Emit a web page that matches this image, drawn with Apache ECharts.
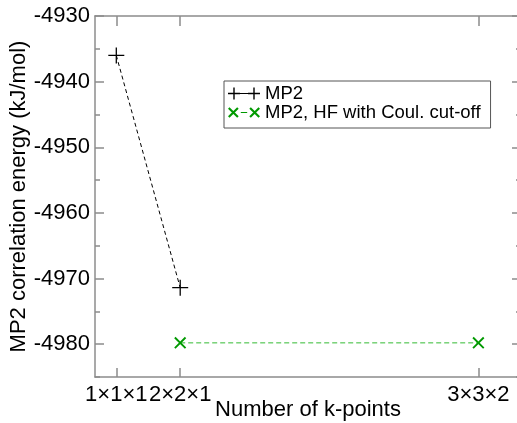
<!DOCTYPE html>
<html>
<head>
<meta charset="utf-8">
<script src="https://cdn.jsdelivr.net/npm/echarts@6/dist/echarts.min.js"></script>
<style>html,body{margin:0;padding:0;background:#fff;}#c{width:517px;height:423px;}</style>
</head>
<body>
<div id="c"></div>
<script>
// Data
var kLabels = ['1\u00d71\u00d71', '2\u00d72\u00d71', '3\u00d73\u00d72'];
var kPoints = [1, 4, 18];
var mp2 = [-4936.0, -4971.4, null];
var mp2Cut = [null, -4979.8, -4979.8];
var yMajor = [-4980, -4970, -4960, -4950, -4940, -4930];
var yMinor = [-4985, -4975, -4965, -4955, -4945, -4935];
var seriesNames = ['MP2', 'MP2, HF with Coul. cut-off'];

function pairs(xs, ys) {
  var out = [];
  for (var i = 0; i < xs.length; i++) if (ys[i] !== null) out.push([xs[i], ys[i]]);
  return out;
}

var FONT = '"Liberation Sans", Arial, Helvetica, sans-serif';
var AXC = '#8c8c8c';
var plusPath = 'path://M0,9.2H20V10.8H0Z M9.2,0H10.8V20H9.2Z';
var crossPath = 'path://M0,2.2L2.2,0L20,17.8L17.8,20Z M17.8,0L20,2.2L2.2,20L0,17.8Z';
var legendPlus = 'path://M0,5.3H12V6.7H0Z M5.3,0H6.7V12H5.3Z M12,5.6H20V6.4H12Z M20,5.3H32V6.7H20Z M25.3,0H26.7V12H25.3Z';
var legendCross = 'path://M1,2.4L2.4,1L11,9.6L9.6,11Z M9.6,1L11,2.4L2.4,11L1,9.6Z M13,5.5H19V6.5H13Z M21,2.4L22.4,1L31,9.6L29.6,11Z M29.6,1L31,2.4L22.4,11L21,9.6Z';

var chart = echarts.init(document.getElementById('c'), null, {renderer: 'canvas'});

function yAx(pos, ticks, len, showLine, showLabel) {
  return {
    type: 'value', position: pos, min: -4985, max: -4930,
    axisLine: {show: showLine, lineStyle: {color: AXC, width: 1.5}},
    axisTick: {show: true, inside: true, length: len, customValues: ticks, lineStyle: {color: AXC, width: 1.5}},
    axisLabel: {show: showLabel, customValues: yMajor, margin: 5, color: '#000', fontSize: 22, fontFamily: FONT,
      hideOverlap: false, formatter: function (v) { return String(v); }},
    splitLine: {show: false}
  };
}

chart.setOption({
  animation: false,
  backgroundColor: '#fff',
  grid: {left: 95, top: 16, width: 426, height: 361, containLabel: false, outerBoundsMode: 'none'},
  legend: {
    orient: 'vertical', left: 224, top: 81,
    padding: [3, 10, 6, 4], itemGap: 0, itemWidth: 32, itemHeight: 12,
    borderColor: '#555', borderWidth: 1,
    textStyle: {fontSize: 18.5, lineHeight: 18, color: '#000', fontFamily: FONT},
    data: [
      {name: seriesNames[0], icon: legendPlus, itemStyle: {color: '#000'}},
      {name: seriesNames[1], icon: legendCross, itemStyle: {color: '#009900'}}
    ]
  },
  xAxis: [
    {
      type: 'value', position: 'bottom', min: 0, max: 20,
      name: 'Number of k-points', nameLocation: 'middle', nameGap: 22, nameMoveOverlap: false,
      nameTextStyle: {fontSize: 22, color: '#000', fontFamily: FONT},
      axisLine: {lineStyle: {color: AXC, width: 1.5}},
      axisTick: {inside: true, length: 9, customValues: kPoints, lineStyle: {color: AXC, width: 1.5}},
      axisLabel: {customValues: kPoints, margin: 7, color: '#000', fontSize: 22, fontFamily: FONT,
        hideOverlap: false, showMinLabel: true, showMaxLabel: true,
        formatter: function (v) { var i = kPoints.indexOf(v); return i >= 0 ? kLabels[i] : ''; }},
      splitLine: {show: false}
    },
    {
      type: 'value', position: 'top', min: 0, max: 20,
      axisLine: {lineStyle: {color: AXC, width: 1.5}},
      axisTick: {inside: true, length: 10, customValues: kPoints, lineStyle: {color: AXC, width: 1.5}},
      axisLabel: {show: false},
      splitLine: {show: false}
    }
  ],
  yAxis: [
    Object.assign(yAx('left', yMajor, 9, true, true), {
      name: 'MP2 correlation energy (kJ/mol)', nameLocation: 'middle', nameGap: 65, nameMoveOverlap: false,
      nameTextStyle: {fontSize: 22, color: '#000', fontFamily: FONT}
    }),
    yAx('left', yMinor, 5, false, false),
    yAx('right', yMajor, 9, true, false),
    yAx('right', yMinor, 5, false, false)
  ],
  series: [
    {
      name: seriesNames[0], type: 'line', xAxisIndex: 0, yAxisIndex: 0,
      data: pairs(kPoints, mp2),
      symbol: plusPath, symbolSize: 16,
      itemStyle: {color: '#000', borderWidth: 0},
      lineStyle: {color: '#000', width: 1, type: [4, 3]}
    },
    {
      name: seriesNames[1], type: 'line', xAxisIndex: 0, yAxisIndex: 0,
      data: pairs(kPoints, mp2Cut),
      symbol: crossPath, symbolSize: 12,
      itemStyle: {color: '#009900', borderWidth: 0},
      lineStyle: {color: '#33bb33', width: 1, type: [5, 3]}
    }
  ]
});
</script>
</body>
</html>
